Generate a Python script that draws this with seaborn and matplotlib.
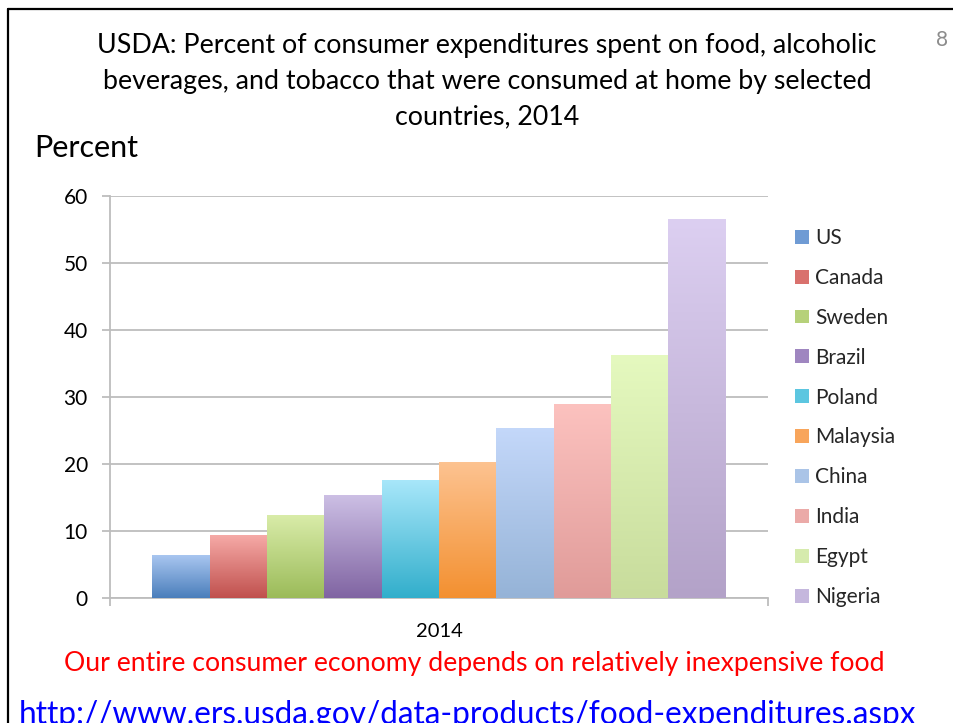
import numpy as np
import pandas as pd
import seaborn as sns
import matplotlib.pyplot as plt
from matplotlib.colors import LinearSegmentedColormap
from matplotlib.lines import Line2D
from matplotlib.patches import Patch

# ---- data ----
countries = ["US", "Canada", "Sweden", "Brazil", "Poland",
             "Malaysia", "China", "India", "Egypt", "Nigeria"]
percent = [6.4, 9.3, 12.3, 15.4, 17.6, 20.3, 25.4, 28.9, 36.2, 56.5]
year_label = "2014"
y_ticks = [0, 10, 20, 30, 40, 50, 60]

title = ("USDA: Percent of consumer expenditures spent on food, alcoholic\n"
         "beverages, and tobacco that were consumed at home by selected\n"
         "countries, 2014")
y_title = "Percent"
note = "Our entire consumer economy depends on relatively inexpensive food"
url = "http://www.ers.usda.gov/data-products/food-expenditures.aspx"
slide_no = "8"

# gradient colours (top -> bottom) per country
top_colors = ["#a9c6f0", "#f6aaa7", "#d9eca9", "#cdc0e5", "#a8e7fa",
              "#fdc391", "#c4d8fa", "#fcc2bf", "#e5f9bf", "#dccff1"]
bottom_colors = ["#4a7ebb", "#c0504d", "#9bbb59", "#8064a2", "#31aecb",
                 "#f39030", "#95b3d7", "#e09b99", "#c8dc9c", "#b3a2c8"]
mid_colors = ["#6f9bd4", "#d9716d", "#b6d17a", "#9f86c0", "#5cc6e0",
              "#f8a55b", "#aac4e7", "#ebaaa8", "#d6ebad", "#c5b7dd"]

# ---- style ----
sns.set_theme(style="white")
plt.rcParams["font.family"] = ["Lato", "DejaVu Sans"]
narrow = ["Lato", "DejaVu Sans"]

W, H = 954, 723
fig = plt.figure(figsize=(W / 100, H / 100), dpi=100)
fig.patch.set_facecolor("white")

ax_l, ax_r, ax_t, ax_b = 110, 768, 195.7, 597.7
ax = fig.add_axes([ax_l / W, 1 - ax_b / H, (ax_r - ax_l) / W, (ax_b - ax_t) / H])

df = pd.DataFrame({"Year": [year_label] * len(countries),
                   "Country": countries, "Percent": percent})
sns.barplot(data=df, x="Year", y="Percent", hue="Country", hue_order=countries,
            palette=mid_colors, saturation=1, width=0.871, gap=0,
            errorbar=None, linewidth=0, legend=False, ax=ax, zorder=3)

ax.set_xlim(-0.5, 0.5)
ax.set_ylim(0, 60)

# gradient fills clipped to each bar
bars = sorted([p for p in ax.patches], key=lambda p: p.get_x())
grad = np.linspace(0, 1, 256).reshape(-1, 1)
for p, tc, bc in zip(bars, top_colors, bottom_colors):
    cmap = LinearSegmentedColormap.from_list("g", [bc, tc])
    x0 = p.get_x()
    w = p.get_width()
    h = p.get_height()
    im = ax.imshow(grad, extent=[x0, x0 + w, 0, h], origin="lower",
                   aspect="auto", cmap=cmap, zorder=3.5, interpolation="bilinear")
    im.set_clip_path(p)
ax.set_xlim(-0.5, 0.5)
ax.set_ylim(0, 60)
ax.set_aspect("auto")

# axes styling
grid_c = "#bdbdbd"
ax.set_yticks(y_ticks)
ax.set_yticklabels([str(v) for v in y_ticks])
ax.yaxis.grid(True, color=grid_c, linewidth=1.3, zorder=0)
ax.set_axisbelow(True)
for s in ["top", "right"]:
    ax.spines[s].set_visible(False)
for s in ["left", "bottom"]:
    ax.spines[s].set_color(grid_c)
    ax.spines[s].set_linewidth(1.3)
ax.tick_params(axis="y", which="major", left=True, length=6, width=1.3,
               color=grid_c, direction="out", pad=10, labelsize=15,
               labelcolor="black")
ax.set_xticks([0])
ax.set_xticklabels([year_label])
ax.set_xticks([-0.5, 0.5], minor=True)
ax.tick_params(axis="x", which="major", length=0, pad=18, labelsize=14.5,
               labelcolor="black")
ax.tick_params(axis="x", which="minor", bottom=True, length=6, width=1.3,
               color=grid_c, direction="out")
ax.set_xlabel("")
ax.set_ylabel("")

# legend
handles = [Patch(facecolor=c, edgecolor="none") for c in mid_colors]
fig.legend(handles, countries, loc="upper left",
           bbox_to_anchor=(795 / W, 1 - 228 / H), frameon=False,
           fontsize=15, handlelength=0.65, handleheight=0.65,
           handletextpad=0.33, labelspacing=0.955, borderpad=0,
           borderaxespad=0)

# texts
fig.text(487 / W, 1 - 81.5 / H, title, ha="center", va="center",
         fontsize=19.3, linespacing=1.54, family=narrow, color="black")
fig.text(34 / W, 1 - 148 / H, y_title, ha="left", va="center",
         fontsize=22, family=narrow, color="black")
fig.text(942 / W, 1 - 40 / H, slide_no, ha="center", va="center",
         fontsize=15, family=narrow, color="#8c8c8c")
fig.text(474 / W, 1 - 664 / H, note, ha="center", va="center",
         fontsize=19.2, family=narrow, color="#ff0000")
fig.text(468 / W, 1 - 700 / H, url, ha="center", va="top",
         fontsize=22.7, family=narrow, color="#0000ff")

# slide border
fig.add_artist(Line2D([8 / W, 8 / W], [0, 1 - 9 / H], transform=fig.transFigure,
                      color="black", linewidth=1.6))
fig.add_artist(Line2D([8 / W, 1], [1 - 9 / H, 1 - 9 / H], transform=fig.transFigure,
                      color="black", linewidth=1.6))

fig.savefig("out.png", dpi=100)
